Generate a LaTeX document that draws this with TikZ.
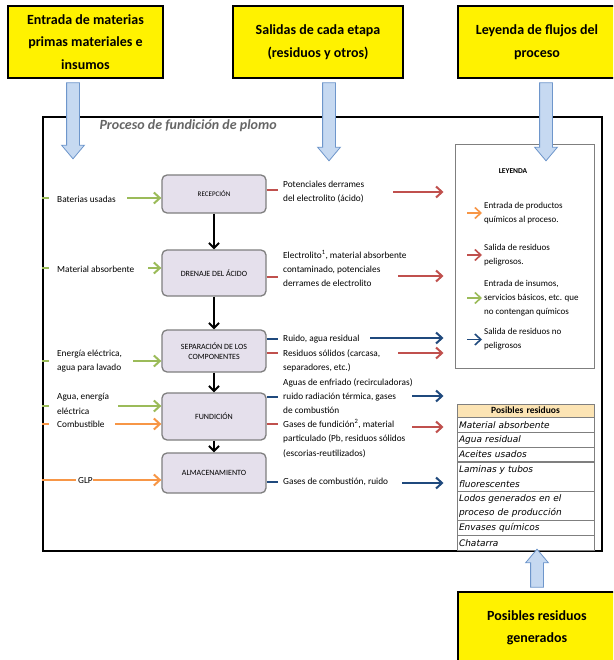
\documentclass[tikz,border=0pt]{standalone}
\usepackage{fontspec}
\setmainfont{Carlito}
\newfontfamily\gothic{DejaVu Sans}
\usetikzlibrary{positioning,arrows.meta,shapes.arrows}

\definecolor{flowgreen}{HTML}{9BBB59}
\definecolor{flowred}{HTML}{C0504D}
\definecolor{flowblue}{HTML}{1F497D}
\definecolor{floworange}{HTML}{F79646}
\definecolor{boxfill}{HTML}{E5E0EC}
\definecolor{boxline}{HTML}{7F7F7F}
\definecolor{bigfill}{HTML}{C6D9F1}
\definecolor{bigline}{HTML}{6E96CB}
\definecolor{tabhead}{HTML}{FCE4B4}

\begin{document}
\begin{tikzpicture}[x=1pt, y=-1pt,
  rotulo/.style={draw, line width=2pt, fill=yellow, align=center, inner sep=0pt,
    font=\bfseries\fontsize{14}{22.5}\selectfont},
  bigarr/.style={single arrow, draw=bigline, fill=bigfill, line width=0.8pt,
    inner xsep=0pt, inner ysep=6pt, single arrow head extend=5pt,
    single arrow tip angle=80},
  etapa/.style={draw=boxline, fill=boxfill, line width=1.3pt, rounded corners=5pt,
    minimum width=104pt, align=center, font=\fontsize{8}{10}\selectfont},
  txt/.style={anchor=west, align=left, inner sep=0pt, font=\fontsize{9.3}{14.3}\selectfont},
  flujo/.style={-{Straight Barb[length=6pt,width=11pt]}, line width=2pt},
  marca/.style={line width=2pt},
  paso/.style={-{Straight Barb[length=5pt,width=10pt]}, line width=2pt, black},
  fila/.style={draw=boxline, line width=0.6pt, minimum width=137pt, text width=133pt,
    inner xsep=2pt, inner ysep=0pt, minimum height=14.3pt, align=left,
    font=\gothic\itshape\fontsize{9}{14.3}\selectfont},
]
  \clip (0,0) rectangle (613,660);
  \fill[white] (0,0) rectangle (613,660);

  % marco y leyenda
  \node[draw, line width=1.3pt, minimum width=559pt, minimum height=434pt, inner sep=0pt] (marco) at (322.5,334) {};
  \node[anchor=west, text=black!60, font=\bfseries\itshape\fontsize{14}{16}\selectfont] (titulo) at (96,126) {Proceso de fundición de plomo};
  \node[draw=boxline, line width=1pt, minimum width=139pt, minimum height=223pt, inner sep=0pt] (leyenda) at (524.5,256.5) {};
  \node[font=\bfseries\fontsize{7.5}{9}\selectfont] (leyt) at (513,171) {LEYENDA};
  \node[txt, font=\fontsize{9}{14}\selectfont] (l1) at (484,213) {Entrada de productos\\químicos al proceso.};
  \node[txt, font=\fontsize{9}{14}\selectfont] (l2) at (484,255) {Salida de residuos\\peligrosos.};
  \node[txt, font=\fontsize{9}{14}\selectfont] (l3) at (484,298) {Entrada de insumos,\\servicios básicos, etc. que\\no contengan químicos};
  \node[txt, font=\fontsize{9}{14}\selectfont] (l4) at (484,339.5) {Salida de residuos no\\peligrosos};
  \draw[flujo, floworange, line width=1.6pt] ([xshift=-17pt]l1.west) -- ([xshift=-2pt]l1.west);
  \draw[flujo, flowred, line width=1.6pt] ([xshift=-17pt]l2.west) -- ([xshift=-2pt]l2.west);
  \draw[flujo, flowgreen, line width=1.6pt] ([xshift=-17pt]l3.west) -- ([xshift=-2pt]l3.west);
  \draw[flujo, flowblue, line width=1.6pt] ([xshift=-17pt]l4.west) -- ([xshift=-2pt]l4.west);

  % etapas
  \node[etapa, minimum height=38pt, font=\fontsize{7}{9}\selectfont] (recep) at (214,194) {RECEPCIÓN};
  \node[etapa, minimum height=46pt] (dren) at (214,273) {DRENAJE DEL ÁCIDO};
  \node[etapa, minimum height=42pt] (sep) at (214,351) {SEPARACIÓN DE LOS\\COMPONENTES};
  \node[etapa, minimum height=47pt] (fund) at (214,416.5) {FUNDICIÓN};
  \node[etapa, minimum height=40pt] (alm) at (214,473) {ALMACENAMIENTO};
  \draw[paso] (recep) -- (dren);
  \draw[paso] (dren) -- (sep);
  \draw[paso] (sep) -- (fund);
  \draw[paso] (fund) -- (alm);

  % entradas
  \node[txt] (bat) at (57,199) {Baterias usadas};
  \node[txt] (mat) at (57,269) {Material absorbente};
  \node[txt] (ener) at (57,361) {Energía eléctrica,\\agua para lavado};
  \node[txt] (agua) at (57,404) {Agua, energía\\eléctrica};
  \node[txt] (comb) at (57,424) {Combustible};
  \node[txt] (glp) at (78,481) {GLP};
  \coordinate (e1) at (127,198);
  \coordinate (e2) at (148,268);
  \coordinate (e3) at (133,361);
  \coordinate (e4) at (118,406);
  \coordinate (e5) at (115,424);
  \coordinate (e6) at (93,480);
  \draw[flujo, flowgreen] (e1) -- (e1 -| recep.west);
  \draw[flujo, flowgreen] (e2) -- (e2 -| dren.west);
  \draw[flujo, flowgreen] (e3) -- (e3 -| sep.west);
  \draw[flujo, flowgreen] (e4) -- (e4 -| fund.west);
  \draw[flujo, floworange] (e5) -- (e5 -| fund.west);
  \draw[flujo, floworange] (e6) -- (e6 -| alm.west);
  \draw[marca, flowgreen] (marco.west |- e1) -- ++(7,0);
  \draw[marca, flowgreen] (marco.west |- e2) -- ++(7,0);
  \draw[marca, flowgreen] (marco.west |- e3) -- ++(7,0);
  \draw[marca, flowgreen] (marco.west |- e4) -- ++(7,0);
  \draw[marca, floworange] (marco.west |- e5) -- ++(7,0);
  \draw[marca, floworange, shorten >=2pt] (marco.west |- e6) -- (glp.west |- e6);

  % salidas
  \node[txt] (s1) at (283,192) {Potenciales derrames\\del electrolito (ácido)};
  \node[txt] (s2) at (283,268.5) {Electrolito\textsuperscript{1}, material absorbente\\contaminado, potenciales\\derrames de electrolito};
  \node[txt] (s3) at (283,339) {Ruido, agua residual};
  \node[txt] (s4) at (283,360.5) {Residuos sólidos (carcasa,\\separadores, etc.)};
  \node[txt] (s5) at (283,396) {Aguas de enfriado (recirculadoras)\\ruido radiación térmica, gases\\de combustión};
  \node[txt] (s6) at (283,438.5) {Gases de fundición\textsuperscript{2}, material\\particulado (Pb, residuos sólidos\\(escorias-reutilizados)};
  \node[txt] (s7) at (283,482) {Gases de combustión, ruido};
  \draw[marca, flowred] (recep.east |- 0,190) -- ++(11,0);
  \draw[marca, flowred] (dren.east |- 0,277) -- ++(11,0);
  \draw[marca, flowblue] (sep.east |- 0,339) -- ++(11,0);
  \draw[marca, flowred] (sep.east |- 0,353) -- ++(11,0);
  \draw[marca, flowblue] (fund.east |- 0,397) -- ++(11,0);
  \draw[marca, flowred] (fund.east |- 0,424) -- ++(11,0);
  \draw[marca, flowblue] (alm.east |- 0,482) -- ++(11,0);
  \coordinate (a1) at (393,192);
  \coordinate (a2) at (398,276);
  \coordinate (a3) at (370,338);
  \coordinate (a4) at (398,353);
  \coordinate (a5) at (412,396);
  \coordinate (a6) at (412,427);
  \coordinate (a7) at (402,483);
  \draw[flujo, flowred, shorten >=11pt] (a1) -- (a1 -| leyenda.west);
  \draw[flujo, flowred, shorten >=11pt] (a2) -- (a2 -| leyenda.west);
  \draw[flujo, flowblue, shorten >=11pt] (a3) -- (a3 -| leyenda.west);
  \draw[flujo, flowred, shorten >=11pt] (a4) -- (a4 -| leyenda.west);
  \draw[flujo, flowblue, shorten >=11pt] (a5) -- (a5 -| leyenda.west);
  \draw[flujo, flowred, shorten >=11pt] (a6) -- (a6 -| leyenda.west);
  \draw[flujo, flowblue, shorten >=11pt] (a7) -- (a7 -| leyenda.west);

  % tabla de residuos
  \node[fila, fill=tabhead, align=center, minimum height=13pt, font=\bfseries\fontsize{9.5}{11}\selectfont] (th) at (525.5,410.5) {Posibles residuos};
  \node[fila, below=0pt of th] (t1) {Material absorbente};
  \node[fila, below=0pt of t1] (t2) {Agua residual};
  \node[fila, below=0pt of t2] (t3) {Aceites usados};
  \node[fila, below=0pt of t3, minimum height=28.6pt] (t4) {Laminas y tubos\\fluorescentes};
  \node[fila, below=0pt of t4, minimum height=28.6pt] (t5) {Lodos generados en el\\proceso de producción};
  \node[fila, below=0pt of t5] (t6) {Envases químicos};
  \node[fila, below=0pt of t6] (t7) {Chatarra};

  % rotulos
  \node[rotulo, minimum width=155pt, minimum height=72pt] (y1) at (85.5,42) {Entrada de materias\\primas materiales e\\insumos};
  \node[rotulo, minimum width=170pt, minimum height=72pt] (y2) at (318,42) {Salidas de cada etapa\\(residuos y otros)};
  \node[rotulo, minimum width=158pt, minimum height=72pt] (y3) at (537,42) {Leyenda de flujos del\\proceso};
  \node[rotulo, minimum width=158pt, minimum height=72pt] (y4) at (537,628) {Posibles residuos\\generados};
  \node[bigarr, rotate=-90, minimum height=76pt] (b1) at (73,117) {};
  \node[bigarr, rotate=-90, minimum height=78pt] (b2) at (329,118) {};
  \node[bigarr, rotate=-90, minimum height=78pt] (b3) at (546,118) {};
  \node[bigarr, rotate=90, minimum height=38pt] (b4) at (537,572) {};
\end{tikzpicture}
\end{document}
